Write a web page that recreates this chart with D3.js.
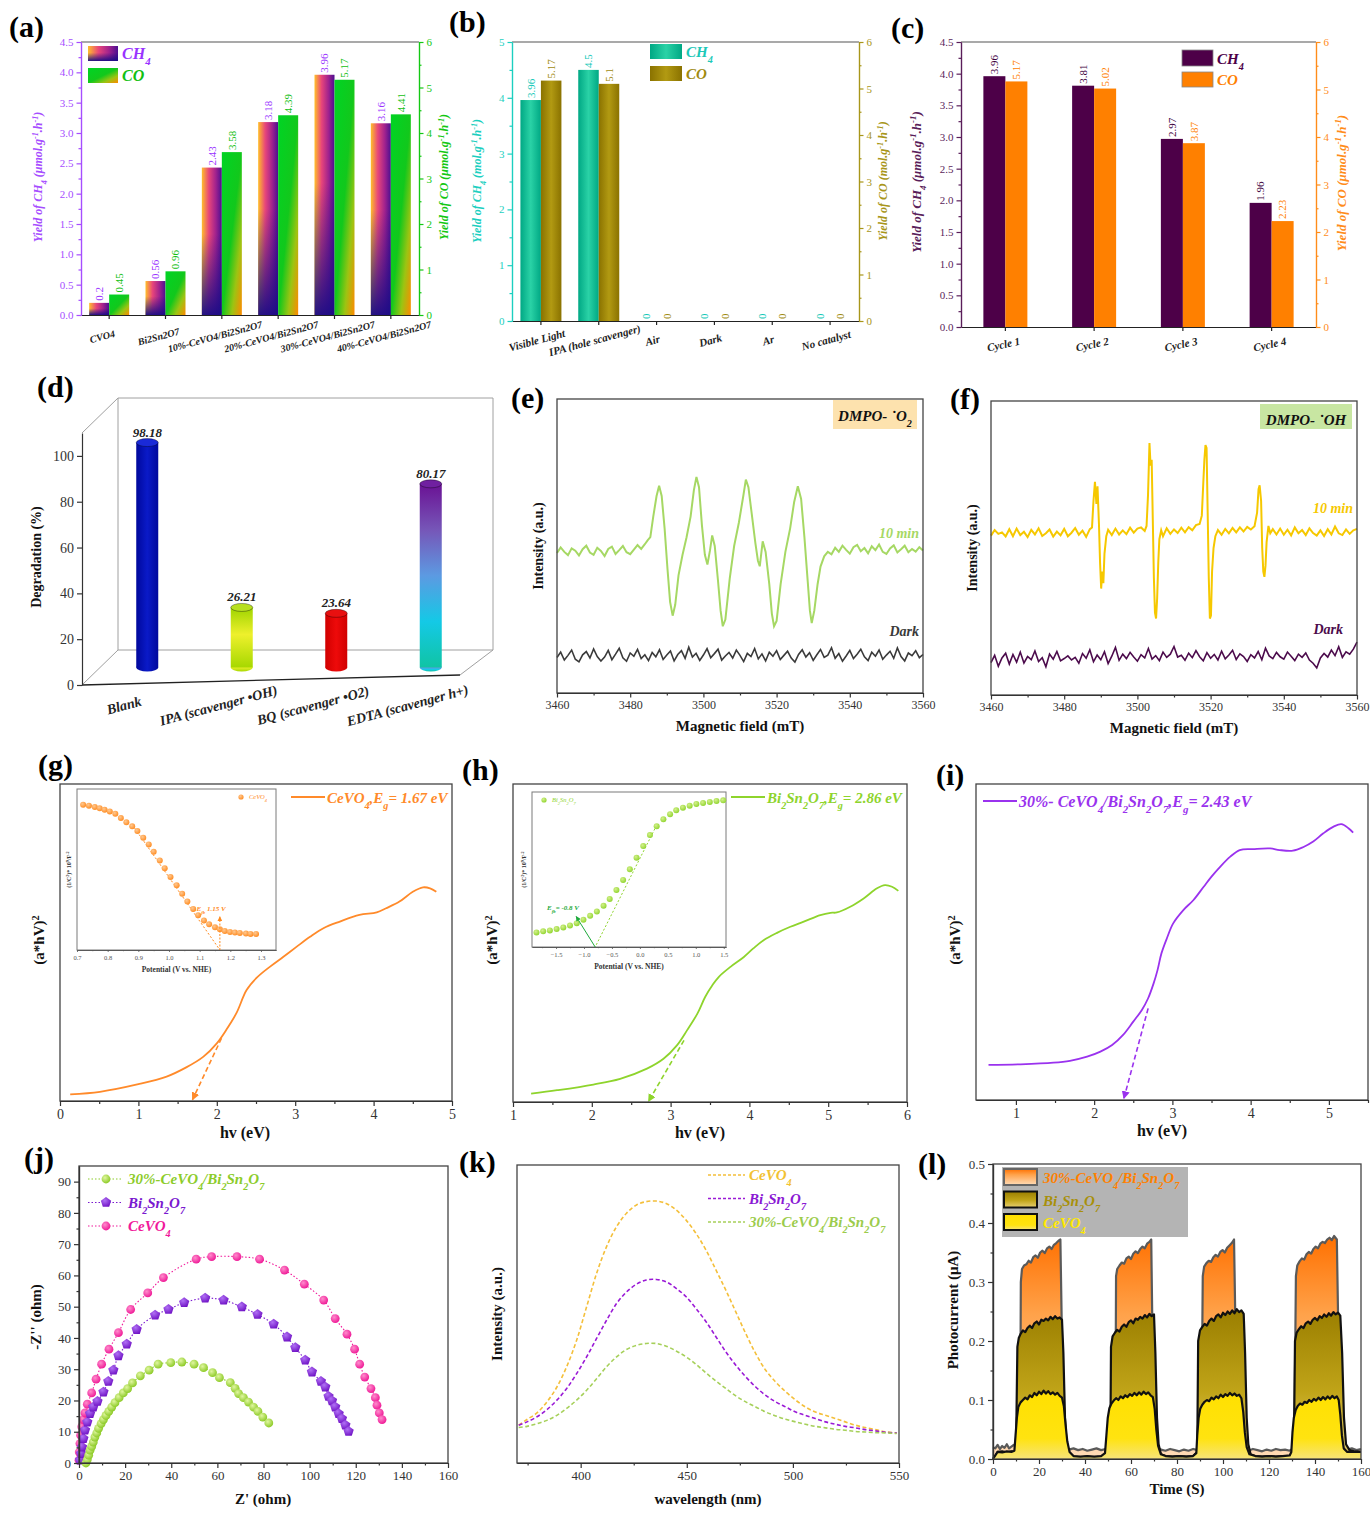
<!DOCTYPE html>
<html>
<head>
<meta charset="utf-8">
<script src="https://cdn.jsdelivr.net/npm/d3@7"></script>
<style>
  body { margin: 0; background: #fff; }
  svg text { font-family: "Liberation Serif", "Times New Roman", serif; }
</style>
</head>
<body>
<svg id="fig" width="1370" height="1513"></svg>
<script>
// ---------- data ----------

// (a) yields for the catalyst series
var catsA = ['CVO4', 'Bi2Sn2O7', '10%-CeVO4/Bi2Sn2O7', '20%-CeVO4/Bi2Sn2O7', '30%-CeVO4/Bi2Sn2O7', '40%-CeVO4/Bi2Sn2O7'];
var ch4A = [0.2, 0.56, 2.43, 3.18, 3.96, 3.16];
var coA = [0.45, 0.96, 3.58, 4.39, 5.17, 4.41];

// (b) control experiments
var catsB = ['Visible Light', 'IPA (hole scavenger)', 'Air', 'Dark', 'Ar', 'No catalyst'];
var ch4B = [3.96, 4.5, 0, 0, 0, 0];
var coB = [5.17, 5.1, 0, 0, 0, 0];

// (c) recycling
var catsC = ['Cycle 1', 'Cycle 2', 'Cycle 3', 'Cycle 4'];
var ch4C = [3.96, 3.81, 2.97, 1.96];
var coC = [5.17, 5.02, 3.87, 2.23];

// (d) scavenger test
var catsD = ['Blank', 'IPA (scavenger \u2022OH)', 'BQ  (scavenger \u2022O2)', 'EDTA (scavenger h+)'];
var degD = [98.18, 26.21, 23.64, 80.17];

// (e) ESR DMPO-O2 : [field mT, intensity a.u.]
var esrO2 = [
  [3460,47.6],[3461,49.5],[3462,48.0],[3463,46.9],[3464,49.2],[3465,48.4],[3466,46.8],[3467,48.9],[3468,50.1],[3469,47.8],
  [3470,47.0],[3471,49.4],[3472,48.3],[3473,46.6],[3474,49.0],[3475,49.8],[3476,47.3],[3477,48.6],[3478,50.0],[3479,47.9],
  [3480,47.2],[3481,48.8],[3482,50.3],[3483,49.0],[3484,50.6],[3484.8,52.0],[3485.5,53.0],
  [3486.3,60],[3487.2,67],[3487.9,70.5],[3488.6,67],[3489.4,56],[3490.2,42],[3490.9,31],[3491.6,26.3],[3492.3,30],
  [3493.2,40],[3494.3,47],[3495.4,53],[3496.5,60],[3497.4,69],[3498.1,73.5],[3498.8,70],[3499.6,57],[3500.4,47],
  [3501.1,43.7],[3501.8,48.5],[3502.4,53.6],[3503.1,50],[3504,38],[3504.7,28],[3505.3,22.7],[3506,25],[3507.2,39],
  [3508.4,50],[3509.7,58],[3510.9,67],[3511.6,72.6],[3512.3,70],[3513.2,61],[3514.2,51],[3514.9,45],[3515.4,43.1],
  [3516.2,51.6],[3517,48],[3518,37],[3518.7,27],[3519.3,22.7],[3520,24.5],[3521.1,37],[3522.4,48],[3523.7,56],
  [3524.8,65],[3525.8,70.3],[3526.7,66],[3527.6,53],[3528.5,38],[3529.1,28],[3529.6,23.8],[3530.3,28],[3531.2,37],
  [3532,43],[3533,46.5],[3534,48],
  [3535,47.2],[3536,49.4],[3537,48.0],[3538,50.1],[3539,48.7],[3540,47.4],[3541,49.6],[3542,50.4],[3543,48.2],
  [3544,49.3],[3545,47.5],[3546,49.9],[3547,48.6],[3548,50.5],[3549,48.0],[3550,47.3],[3551,49.2],[3552,50.2],
  [3553,47.8],[3554,48.9],[3555,50.1],[3556,47.9],[3557,49.0],[3558,48.1],[3559,49.6],[3560,48.5]
];
// dark trace, evenly sampled over 3460-3560 mT
var esrDarkO2 = [
  12.1,13.9,11.2,12.8,14.6,11.5,10.6,13.0,14.1,11.9,15.0,12.4,10.9,12.2,14.5,11.3,13.2,15.2,12.0,10.8,
  13.6,12.5,14.8,11.7,13.0,11.0,13.8,12.3,14.7,11.4,12.9,14.3,10.9,13.1,14.4,11.8,15.6,12.2,13.5,11.1,
  12.9,15.1,12.0,13.4,14.9,11.2,12.6,13.8,11.9,14.6,12.8,10.7,13.5,12.4,15.1,11.6,13.3,10.9,13.9,12.5,
  14.4,11.4,12.8,14.2,11.9,10.5,13.1,14.7,12.2,13.7,11.1,13.0,14.8,12.1,12.9,15.4,11.8,13.4,10.8,12.6,
  14.5,11.7,13.2,14.9,12.3,11.0,13.9,12.5,14.6,11.5,12.9,14.2,11.8,15.3,12.4,10.9,13.6,12.7,14.4,12.0,13.1
];

// (f) ESR DMPO-OH
var esrOH = [
  [3460,54.2],[3461,56.1],[3462,54.8],[3463,55.3],[3464,53.9],[3465,56.4],[3466,54.0],[3467,56.6],[3468,54.4],[3469,55.5],
  [3470,53.7],[3471,56.2],[3472,54.6],[3473,56.7],[3474,54.1],[3475,55.0],[3476,56.3],[3477,53.9],[3478,55.6],[3479,54.3],
  [3480,56.5],[3481,54.0],[3482,55.2],[3483,56.8],[3484,54.5],[3485,55.9],[3486,53.8],[3487,56.4],[3487.6,57.0],
  [3488,66],[3488.4,72.5],[3488.8,65],[3489.1,71],[3489.5,58],[3489.8,45],[3490.1,36.2],[3490.4,42],[3490.7,38],
  [3491,48],[3491.5,54],[3492,56.2],[3493,54.4],[3494,56.6],[3495,54.6],[3496,56.0],[3497,54.7],[3498,56.9],[3499,55.2],
  [3500,56.6],[3501,57.0],[3502,55.8],[3502.5,57.5],[3502.9,68],[3503.3,85.7],[3503.6,78],[3503.9,80],[3504.2,60],
  [3504.5,40],[3504.8,28],[3505.1,26],[3505.4,33],[3505.7,45],[3506,53],[3506.5,56.0],[3507,54.0],[3508,56.7],
  [3509,54.8],[3510,56.3],[3511,55.1],[3512,56.9],[3513,55.3],[3514,57.1],[3515,56.0],[3516,57.8],[3517,58.2],
  [3517.6,61],[3518,72],[3518.3,80],[3518.6,85],[3518.9,84],[3519.2,62],[3519.5,40],[3519.8,26],[3520.1,27],
  [3520.4,42],[3520.8,50],[3521.3,54],[3522,56.1],[3523,54.5],[3524,56.5],[3525,55.0],[3526,56.8],[3527,55.3],
  [3528,57.0],[3529,55.6],[3530,57.2],[3531,56.3],[3532,57.4],[3532.7,62],[3533.1,70],[3533.4,71.3],[3533.8,66],
  [3534.1,50],[3534.4,42],[3534.7,40.2],[3535,44],[3535.3,52],[3535.8,57.5],[3536.3,55.0],[3537,56.4],[3538,54.6],
  [3539,56.6],[3540,54.5],[3541,56.2],[3542,54.3],[3543,57.0],[3544,55.0],[3545,56.1],[3546,54.4],[3547,56.7],
  [3548,55.1],[3549,54.2],[3550,56.0],[3551,54.1],[3552,56.4],[3553,54.6],[3554,57.3],[3555,55.0],[3556,54.4],
  [3557,56.3],[3558,54.8],[3559,56.0],[3560,56.5]
];
var esrDarkOH = [
  11.0,13.5,9.8,12.6,14.2,10.5,13.8,11.2,14.6,10.9,13.1,12.0,15.0,11.4,12.7,9.6,13.9,12.2,14.8,11.6,
  12.4,13.3,11.9,12.8,10.8,14.1,12.5,15.4,11.3,13.6,12.0,14.7,10.7,13.2,16.2,11.8,13.9,12.4,14.5,12.9,
  11.5,13.7,12.6,15.8,12.2,13.4,11.7,14.6,12.8,13.9,16.5,12.9,13.5,11.8,14.2,12.7,15.1,13.0,11.6,14.4,
  12.5,13.8,11.9,14.9,12.3,13.6,15.2,12.1,14.0,13.1,11.4,13.7,12.6,14.8,12.0,15.9,13.3,12.4,14.5,13.0,
  12.2,14.6,13.2,11.7,13.9,12.8,14.3,11.9,10.8,9.2,12.6,14.1,12.9,15.3,13.4,16.4,12.8,14.7,13.9,15.6,18.0
];

// (g)(h)(i) Tauc plots : [hv eV, (a*hv)^2 a.u.]
var taucCe = [[0.13,2.1],[0.51,2.9],[1.0,5.3],[1.36,7.7],[1.61,10.6],[1.83,14.0],[2.0,18.2],[2.12,22.4],[2.25,27.7],
  [2.38,35.0],[2.51,38.9],[2.68,42.4],[2.85,45.5],[3.02,48.7],[3.19,51.8],[3.36,54.5],[3.57,56.6],[3.82,58.7],
  [4.04,59.5],[4.16,60.8],[4.33,62.9],[4.50,66.0],[4.63,67.4],[4.72,67.1],[4.80,66.0]];
var taucBi = [[1.23,2.6],[1.56,3.7],[2.02,5.5],[2.36,7.3],[2.70,10.5],[2.91,13.6],[3.08,17.8],[3.21,22.6],[3.34,27.8],
  [3.44,33.1],[3.53,36.7],[3.61,39.3],[3.76,42.5],[3.93,45.6],[4.05,48.3],[4.18,50.9],[4.35,53.2],[4.52,55.1],
  [4.69,56.7],[4.90,58.8],[5.03,59.5],[5.11,59.6],[5.28,61.4],[5.45,64.0],[5.62,67.2],[5.72,68.2],[5.81,67.7],[5.89,66.4]];
var taucComp = [[0.65,11.1],[1.06,11.3],[1.48,11.8],[1.69,12.4],[1.91,13.7],[2.08,15.3],[2.23,17.4],[2.37,20.6],
  [2.50,24.8],[2.61,28.5],[2.69,32.2],[2.76,36.9],[2.81,41.1],[2.86,46.4],[2.93,51.2],[3.01,55.9],[3.14,60.1],
  [3.27,63.3],[3.40,67.5],[3.50,70.7],[3.61,73.8],[3.74,77.0],[3.86,79.1],[4.03,79.4],[4.25,79.6],[4.37,79.1],
  [4.54,78.9],[4.67,80.0],[4.80,81.8],[4.93,84.4],[5.06,86.5],[5.16,87.3],[5.25,86.0],[5.31,84.6]];
var egCe = [[2.06,19.8],[1.69,0.4]];
var egBi = [[3.17,19.4],[2.72,0.2]];
var egComp = [[2.69,29.0],[2.38,0.5]];

// Mott-Schottky insets : [potential V vs NHE, 1/C^2 a.u.]
var mottCe = [[0.720,90.2],[0.739,89.6],[0.758,88.8],[0.774,88.0],[0.790,87.1],[0.807,86.1],[0.825,84.6],[0.843,82.0],
  [0.861,79.3],[0.880,76.8],[0.897,73.9],[0.916,69.7],[0.934,65.6],[0.950,61.0],[0.970,55.6],[0.986,50.8],[1.005,45.4],
  [1.025,40.2],[1.043,34.9],[1.060,30.1],[1.079,25.5],[1.095,21.6],[1.114,18.3],[1.131,16.0],[1.150,14.1],[1.166,12.9],
  [1.182,11.8],[1.199,11.2],[1.215,10.8],[1.231,10.6],[1.251,10.2],[1.266,10.0],[1.284,10.0]];
var fbCe = [[0.888,75.7],[1.166,0]];
var mottBi = [[-1.85,9.4],[-1.73,10.1],[-1.61,10.7],[-1.49,11.6],[-1.37,12.6],[-1.25,13.9],[-1.13,15.4],[-1.01,17.6],
  [-0.89,20.1],[-0.77,22.9],[-0.65,26.6],[-0.54,31.0],[-0.42,36.8],[-0.30,43.3],[-0.18,50.1],[-0.06,57.6],[0.06,65.1],
  [0.18,72.2],[0.30,77.9],[0.42,82.4],[0.54,85.7],[0.65,88.2],[0.77,89.9],[0.89,91.2],[1.01,92.3],[1.13,92.9],
  [1.25,93.6],[1.37,94.2],[1.49,94.6]];
var fbBi = [[0.30,78.6],[-0.80,0]];

// (j) Nyquist plots : [Z' ohm, -Z'' ohm]
var eisComp = [[3.0,0.0],[3.6,1.1],[4.2,2.5],[4.8,4.1],[5.5,5.3],[6.2,6.7],[6.9,8.3],[7.7,9.6],[8.5,11.1],[9.6,12.6],
  [10.6,13.9],[11.7,15.2],[12.9,16.5],[14.2,17.9],[15.6,19.3],[17.4,20.9],[19.2,22.4],[21.1,23.8],[23.2,25.6],
  [26.6,27.9],[30.4,29.7],[34.3,31.6],[39.8,32.1],[44.6,32.3],[49.9,31.6],[54.0,30.5],[57.9,28.9],[60.9,27.3],
  [65.6,25.7],[67.7,23.9],[69.2,22.2],[71.3,20.9],[73.5,19.5],[75.7,17.9],[77.6,16.5],[79.7,14.7],[82.3,12.8]];
var eisBi = [[0.4,0.9],[0.9,3.0],[1.3,5.1],[1.9,7.8],[2.6,10.5],[3.6,13.1],[4.8,15.8],[6.2,17.9],[8.0,19.7],[10.6,22.7],
  [12.7,26.1],[14.9,29.7],[17.1,34.3],[20.7,38.0],[25.0,42.7],[33.0,47.3],[38.8,49.1],[45.6,51.3],[54.7,52.7],
  [62.7,52.1],[70.6,49.9],[77.4,47.5],[84.4,44.4],[90.2,40.3],[93.8,36.9],[98.1,32.9],[101.0,29.1],[104.9,26.1],
  [106.8,24.3],[108.2,21.3],[109.7,19.9],[111.1,17.9],[112.6,15.8],[114.0,14.2],[115.5,12.1],[116.9,10.1]];
var eisCe = [[0.0,0.9],[0.1,3.5],[0.4,6.2],[0.7,8.9],[1.2,11.6],[1.9,13.9],[2.6,16.0],[3.6,18.8],[5.5,22.4],[7.4,26.8],
  [9.8,31.6],[13.0,36.4],[17.1,41.7],[22.4,49.1],[29.8,54.4],[36.6,59.3],[50.8,65.2],[57.5,66.0],[68.5,66.0],
  [78.3,65.2],[89.1,61.7],[97.7,57.2],[106.1,52.1],[111.1,46.2],[116.2,41.2],[119.5,36.4],[121.7,31.6],[123.9,27.5],
  [126.6,23.8],[128.5,20.9],[129.2,18.5],[130.2,16.0],[131.4,13.9]];

// (k) PL spectra : [wavelength nm, intensity a.u.]
var plCe = [[370.8,12.7],[374.7,14.6],[379.4,16.8],[384.1,20.5],[388.8,25.5],[393.4,32.3],[398.1,41.2],[402.8,52.4],
  [407.5,63.6],[412.2,72.6],[416.9,79.3],[421.6,83.8],[426.3,86.6],[430.9,87.7],[435.6,87.9],[440.3,87.1],[445.0,84.9],
  [449.7,81.5],[454.4,77.0],[459.1,71.4],[463.8,64.7],[468.4,58.0],[473.1,50.7],[477.8,43.4],[482.5,36.7],[487.2,31.1],
  [491.9,27.2],[496.6,23.9],[501.3,21.1],[505.9,18.8],[510.6,17.1],[515.3,16.0],[520.0,14.9],[524.7,13.8],[529.4,12.7],
  [534.1,11.9],[538.8,11.2],[543.4,10.5],[548.9,10.1]];
var plBi = [[370.8,12.7],[374.7,13.8],[379.4,15.5],[384.1,17.9],[388.8,21.1],[393.4,25.0],[398.1,30.0],[402.8,35.6],
  [407.5,41.8],[412.2,47.9],[416.9,53.5],[421.6,57.4],[426.3,60.0],[430.9,61.4],[435.6,61.6],[440.3,60.8],[445.0,58.6],
  [449.7,55.8],[454.4,51.8],[459.1,47.4],[463.8,42.3],[468.4,37.3],[473.1,32.8],[477.8,28.9],[482.5,25.5],[487.2,22.7],
  [491.9,20.5],[496.6,18.8],[501.3,17.1],[505.9,16.0],[510.6,14.9],[515.3,13.8],[520.0,13.0],[524.7,12.3],[529.4,11.8],
  [534.1,11.2],[538.8,10.8],[543.4,10.3],[548.9,10.1]];
var plComp = [[370.8,11.9],[374.7,12.3],[379.4,13.2],[384.1,14.3],[388.8,16.0],[393.4,18.3],[398.1,21.1],[402.8,24.4],
  [407.5,28.3],[412.2,32.3],[416.9,35.6],[421.6,38.1],[426.3,39.5],[430.9,40.1],[435.6,40.1],[440.3,39.2],[445.0,37.6],
  [449.7,35.6],[454.4,33.1],[459.1,30.2],[463.8,27.5],[468.4,25.0],[473.1,22.5],[477.8,20.5],[482.5,18.8],[487.2,17.1],
  [491.9,15.8],[496.6,14.7],[501.3,13.8],[505.9,13.0],[510.6,12.3],[515.3,11.8],[520.0,11.3],[524.7,11.0],[529.4,10.6],
  [534.1,10.4],[538.8,10.2],[543.4,10.1],[548.9,9.9]];

// (l) transient photocurrent : [time s, current uA]
var pcComp = [
  [0,0.02],[1,0.018],[2,0.024],[3,0.017],[4,0.022],[5,0.019],[6,0.025],[7,0.018],[8,0.021],[9,0.024],[10,0.02],[11,0.026],[11.8,0.03],
  [12.1,0.3],[12.6,0.322],[13.5,0.328],[14.5,0.33],[15.5,0.336],[16.5,0.333],[17.5,0.342],[18.5,0.345],[19.5,0.341],[20.5,0.35],
  [21.5,0.353],[22.5,0.349],[23.5,0.357],[24.5,0.36],[25.5,0.356],[26.5,0.363],[27.5,0.366],[28.5,0.37],[29.3,0.372],
  [29.8,0.25],[30.4,0.1],[31,0.04],[31.7,0.02],[33,0.016],[35,0.018],[37,0.015],[39,0.017],[41,0.014],[43,0.016],[45,0.018],
  [47,0.015],[49,0.017],[51,0.016],[52.5,0.019],[53.2,0.025],
  [53.5,0.31],[54,0.322],[55,0.328],[56,0.333],[57,0.331],[58,0.34],[59,0.343],[60,0.339],[61,0.348],[62,0.352],[63,0.349],
  [64,0.356],[65,0.36],[66,0.357],[67,0.365],[68,0.368],[68.8,0.372],
  [69.2,0.25],[69.8,0.1],[70.5,0.04],[71.5,0.02],[73,0.016],[75,0.014],[77,0.017],[79,0.015],[81,0.013],[83,0.016],[85,0.014],
  [87,0.017],[89,0.015],[90.6,0.02],
  [91.2,0.31],[91.8,0.326],[92.8,0.332],[93.8,0.336],[94.8,0.334],[95.8,0.342],[96.8,0.346],[97.8,0.343],[98.8,0.351],
  [99.8,0.354],[100.8,0.35],[101.8,0.358],[102.8,0.362],[103.8,0.366],[104.8,0.372],
  [105.3,0.25],[105.9,0.1],[106.6,0.04],[107.5,0.02],[109,0.016],[111,0.014],[113,0.017],[115,0.015],[117,0.013],[119,0.016],
  [121,0.014],[123,0.017],[125,0.015],[127,0.016],[129,0.014],[131,0.019],
  [131.7,0.31],[132.3,0.328],[133.3,0.335],[134.3,0.34],[135.3,0.338],[136.3,0.347],[137.3,0.351],[138.3,0.348],[139.3,0.356],
  [140.3,0.36],[141.3,0.357],[142.3,0.365],[143.3,0.368],[144.3,0.366],[145.3,0.372],[146.3,0.375],[147.3,0.371],[148.3,0.378],[149.5,0.372],
  [150,0.25],[150.7,0.1],[151.5,0.04],[152.5,0.02],[154,0.016],[156,0.018],[158,0.015],[160,0.017]
];
var pcBi = [
  [0,0.0],[1,0.005],[2,0.012],[4,0.013],[6,0.011],[8,0.013],[10,0.012],
  [10.6,0.19],[11.2,0.205],[12,0.212],[13,0.218],[14,0.215],[15,0.222],[16,0.226],[17,0.222],[18,0.23],[19,0.233],[20,0.228],
  [21,0.236],[22,0.234],[23,0.238],[24,0.235],[25,0.241],[26,0.237],[27,0.242],[28,0.238],[29,0.24],[30,0.236],
  [30.6,0.18],[31.3,0.07],[32,0.025],[33,0.008],[35,0.004],[38,0.003],[41,0.004],[44,0.003],[47,0.004],[50,0.005],[51,0.012],
  [51.3,0.19],[52,0.208],[53,0.214],[54,0.219],[55,0.216],[56,0.224],[57,0.228],[58,0.224],[59,0.232],[60,0.235],[61,0.23],
  [62,0.238],[63,0.236],[64,0.241],[65,0.238],[66,0.244],[67,0.24],[68,0.246],[69,0.242],[70,0.245],
  [70.6,0.18],[71.3,0.07],[72,0.025],[73,0.008],[75,0.005],[78,0.004],[81,0.005],[84,0.004],[87,0.005],[88.8,0.012],
  [89.2,0.2],[90,0.218],[91,0.224],[92,0.229],[93,0.226],[94,0.234],[95,0.238],[96,0.234],[97,0.242],[98,0.245],[99,0.24],
  [100,0.248],[101,0.244],[102,0.25],[103,0.246],[104,0.252],[105,0.247],[106,0.254],[107,0.249],[108,0.252],[109,0.246],
  [109.6,0.18],[110.3,0.07],[111,0.025],[112,0.008],[114,0.005],[117,0.004],[120,0.005],[123,0.004],[126,0.005],[129,0.005],[130.8,0.012],
  [131.3,0.2],[132,0.214],[133,0.22],[134,0.225],[135,0.222],[136,0.23],[137,0.233],[138,0.229],[139,0.236],[140,0.239],
  [141,0.235],[142,0.242],[143,0.239],[144,0.245],[145,0.241],[146,0.247],[147,0.243],[148,0.249],[149,0.245],[150,0.248],[151,0.243],
  [151.8,0.18],[152.6,0.07],[153.5,0.025],[155,0.015],[157,0.013],[160,0.012]
];
var pcCe = [
  [0,0.0],[1,0.006],[2,0.012],[4,0.011],[6,0.013],[8,0.012],[9.3,0.014],
  [9.8,0.04],[10.4,0.07],[11,0.088],[12,0.096],[13,0.1],[14,0.104],[15,0.101],[16,0.108],[17,0.105],[18,0.112],[19,0.108],
  [20,0.114],[21,0.11],[22,0.116],[23,0.111],[24,0.115],[25,0.11],[26,0.113],[27,0.109],[28,0.112],[29,0.107],[30,0.104],
  [30.8,0.09],[31.5,0.06],[32.3,0.03],[33.3,0.012],[35,0.005],[38,0.004],[41,0.005],[44,0.004],[47,0.005],[48.7,0.01],
  [49.3,0.04],[49.9,0.07],[50.6,0.086],[51.5,0.094],[52.5,0.099],[53.5,0.103],[54.5,0.1],[55.5,0.106],[56.5,0.103],
  [57.5,0.108],[58.5,0.105],[59.5,0.11],[60.5,0.107],[61.5,0.112],[62.5,0.108],[63.5,0.113],[64.5,0.109],[65.5,0.114],
  [66.5,0.11],[67.5,0.113],[68.5,0.108],[69.5,0.105],
  [70.3,0.085],[71,0.05],[71.8,0.022],[73,0.008],[75,0.005],[78,0.004],[81,0.005],[84,0.004],[87,0.005],[88.4,0.01],
  [88.8,0.04],[89.4,0.07],[90.1,0.085],[91,0.092],[92,0.097],[93,0.1],[94,0.098],[95,0.104],[96,0.101],[97,0.106],[98,0.103],
  [99,0.109],[100,0.105],[101,0.11],[102,0.107],[103,0.112],[104,0.108],[105,0.111],[106,0.107],[107,0.109],[108,0.103],
  [108.8,0.08],[109.5,0.045],[110.3,0.02],[111.5,0.008],[114,0.005],[117,0.004],[120,0.005],[123,0.004],[126,0.005],[129,0.006],[129.7,0.012],
  [130.2,0.045],[130.8,0.07],[131.6,0.083],[132.5,0.09],[133.5,0.094],[134.5,0.092],[135.5,0.097],[136.5,0.095],[137.5,0.1],
  [138.5,0.097],[139.5,0.102],[140.5,0.099],[141.5,0.104],[142.5,0.1],[143.5,0.105],[144.5,0.101],[145.5,0.106],[146.5,0.102],
  [147.5,0.107],[148.5,0.103],[149.5,0.106],[150.3,0.1],
  [151,0.075],[151.7,0.04],[152.5,0.018],[154,0.012],[157,0.012],[160,0.012]
];

// ---------- helpers ----------
var svg = d3.select('#fig');
var defs = svg.append('defs');

// text with _{sub} and ^{sup} markup
function rich(t, s) {
  var re = /([_^])\{([^}]*)\}/g, last = 0, m;
  while ((m = re.exec(s)) !== null) {
    if (m.index > last) t.append('tspan').text(s.slice(last, m.index));
    t.append('tspan')
      .attr('baseline-shift', m[1] === '_' ? 'sub' : 'super')
      .attr('font-size', '68%')
      .text(m[2]);
    last = re.lastIndex;
  }
  if (last < s.length) t.append('tspan').text(s.slice(last));
  return t;
}

function label(g, x, y, s, o) {
  o = o || {};
  var t = g.append('text')
    .attr('transform', 'translate(' + x + ',' + y + ')' + (o.rot ? ' rotate(' + o.rot + ')' : ''))
    .attr('text-anchor', o.anchor || 'start')
    .attr('font-size', o.size || 12)
    .attr('font-weight', o.bold ? 'bold' : null)
    .attr('font-style', o.italic ? 'italic' : null)
    .attr('fill', o.color || '#111');
  return rich(t, s);
}

function grad(id, stops, dir) {
  dir = dir || [0, 0, 0, 1];
  var lg = defs.append('linearGradient').attr('id', id)
    .attr('x1', dir[0]).attr('y1', dir[1]).attr('x2', dir[2]).attr('y2', dir[3]);
  stops.forEach(function (s) {
    lg.append('stop').attr('offset', s[0]).attr('stop-color', s[1])
      .attr('stop-opacity', s[2] == null ? 1 : s[2]);
  });
  return 'url(#' + id + ')';
}

function radial(id, inner, outer) {
  var rg = defs.append('radialGradient').attr('id', id)
    .attr('cx', 0.38).attr('cy', 0.35).attr('r', 0.7);
  rg.append('stop').attr('offset', 0).attr('stop-color', inner);
  rg.append('stop').attr('offset', 1).attr('stop-color', outer);
  return 'url(#' + id + ')';
}

function arrowHead(id, color) {
  defs.append('marker').attr('id', id).attr('viewBox', '0 0 10 10')
    .attr('refX', 9).attr('refY', 5).attr('markerWidth', 5).attr('markerHeight', 5)
    .attr('orient', 'auto')
    .append('path').attr('d', 'M0,0 L10,5 L0,10 z').attr('fill', color);
  return 'url(#' + id + ')';
}

function styleAxis(sel, color, size, width) {
  sel.attr('font-family', null);
  sel.select('.domain').attr('stroke', color).attr('stroke-width', width || 1.2);
  sel.selectAll('.tick line').attr('stroke', color).attr('stroke-width', width || 1.2);
  sel.selectAll('.tick text').attr('fill', color).attr('font-size', size);
  return sel;
}

function addAxis(g, orient, scale, pos, major, minor, fmt, color, size, o) {
  o = o || {};
  var mk = { left: d3.axisLeft, right: d3.axisRight, bottom: d3.axisBottom, top: d3.axisTop }[orient];
  var tr = (orient === 'left' || orient === 'right') ? 'translate(' + pos + ',0)' : 'translate(0,' + pos + ')';
  if (minor) {
    var m = g.append('g').attr('transform', tr)
      .call(mk(scale).tickValues(minor).tickFormat('').tickSize(o.minorSize || 2.5).tickSizeOuter(0));
    styleAxis(m, color, size, o.width);
  }
  var a = g.append('g').attr('transform', tr)
    .call(mk(scale).tickValues(major).tickFormat(fmt).tickSize(o.size || 4.5).tickSizeOuter(0).tickPadding(o.pad || 3));
  styleAxis(a, color, size, o.width);
  if (o.textColor) a.selectAll('.tick text').attr('fill', o.textColor);
  return a;
}

function steps(a, b, s) {
  return d3.range(a, b + s / 2, s).map(function (v) { return +v.toFixed(4); });
}

function frame(g, l, t, r, b, color, w) {
  g.append('rect').attr('x', l).attr('y', t).attr('width', r - l).attr('height', b - t)
    .attr('fill', 'none').attr('stroke', color || '#444').attr('stroke-width', w || 1.3);
}

// ---------- panel letters ----------
var letters = [['(a)', 9, 37], ['(b)', 449, 32], ['(c)', 891, 38], ['(d)', 37, 397], ['(e)', 511, 408], ['(f)', 950, 409],
  ['(g)', 38, 775], ['(h)', 462, 780], ['(i)', 936, 785], ['(j)', 24, 1168], ['(k)', 459, 1172], ['(l)', 918, 1174]];
svg.append('g').selectAll('text').data(letters).join('text')
  .attr('x', function (d) { return d[1]; }).attr('y', function (d) { return d[2]; })
  .attr('font-size', 30).attr('font-weight', 'bold').attr('fill', '#000')
  .text(function (d) { return d[0]; });

// ---------- (a)(b)(c) grouped bars with two y axes ----------
function barPanel(o) {
  var g = svg.append('g');
  var x = d3.scaleBand().domain(o.cats).range([o.left, o.right]);
  var yL = d3.scaleLinear().domain([0, o.lMax]).range([o.bottom, o.top]);
  var yR = d3.scaleLinear().domain([0, o.rMax]).range([o.bottom, o.top]);
  var cx = function (d) { return x(d) + x.bandwidth() / 2; };

  g.append('line').attr('x1', o.left).attr('x2', o.right).attr('y1', o.top).attr('y2', o.top)
    .attr('stroke', '#555').attr('stroke-width', 1.2);

  var series = [
    { vals: o.ch4, y: yL, off: -o.bw, fills: o.fills1, col: o.vc1 },
    { vals: o.co, y: yR, off: 0, fills: o.fills2, col: o.vc2 }
  ];
  series.forEach(function (s) {
    s.fills.forEach(function (f) {
      g.append('g').selectAll('rect').data(o.cats).join('rect')
        .attr('x', function (d) { return cx(d) + s.off; }).attr('width', o.bw)
        .attr('y', function (d, i) { return s.y(s.vals[i]); })
        .attr('height', function (d, i) { return o.bottom - s.y(s.vals[i]); })
        .attr('fill', f);
    });
    g.append('g').selectAll('text').data(o.cats).join('text')
      .attr('transform', function (d, i) {
        return 'translate(' + (cx(d) + s.off + o.bw / 2 + o.vfs * 0.35) + ',' + (s.y(s.vals[i]) - 2) + ') rotate(-90)';
      })
      .attr('font-size', o.vfs).attr('fill', s.col)
      .text(function (d, i) { return s.vals[i]; });
  });

  addAxis(g, 'bottom', x, o.bottom, o.cats, null, '', '#222', 10, { size: 4 });
  g.append('g').selectAll('text').data(o.cats).join('text')
    .attr('transform', function (d) { return 'translate(' + (cx(d) + o.lblDx) + ',' + (o.bottom + o.lblDy) + ') rotate(' + o.rot + ')'; })
    .attr('text-anchor', 'middle').attr('font-size', o.cfs).attr('font-weight', 'bold').attr('font-style', 'italic')
    .attr('fill', '#222').text(function (d) { return d; });

  addAxis(g, 'left', yL, o.left, o.lTicks, o.lMinor, o.lFmt, o.lc, o.tfs, { textColor: o.ltc });
  addAxis(g, 'right', yR, o.right, o.rTicks, o.rMinor, d3.format('d'), o.rc, o.tfs, { textColor: o.rtc });

  label(g, o.lt[0], o.lt[1], o.lTitle, { rot: -90, anchor: 'middle', size: o.ttfs, bold: true, italic: true, color: o.lc });
  label(g, o.rt[0], o.rt[1], o.rTitle, { rot: -90, anchor: 'middle', size: o.ttfs, bold: true, italic: true, color: o.rc });

  o.legend.forEach(function (L) {
    L.fills.forEach(function (f) {
      g.append('rect').attr('x', L.x).attr('y', L.y).attr('width', L.w).attr('height', L.h)
        .attr('fill', f).attr('stroke', L.stroke || 'none').attr('stroke-width', 0.8);
    });
    label(g, L.x + L.w + 4, L.y + L.h - 2, L.text, { size: o.lfs, bold: true, italic: true, color: L.color });
  });
}

var gA1 = grad('gA1', [[0, '#ffbf2a'], [0.35, '#e8467a'], [0.7, '#a0228e'], [1, '#4c0f90']], [0, 0, 1, 0]);
var gA1o = grad('gA1o', [[0, '#1a0c86', 0], [0.45, '#1a0c86', 0], [1, '#1a0c86', 0.95]], [0, 0, 0, 1]);
var gA2 = grad('gA2', [[0, '#00d424'], [0.5, '#12c81c'], [0.75, '#9cc412'], [1, '#ff8a00']], [0, 0, 1, 1]);

barPanel({
  cats: catsA, ch4: ch4A, co: coA, left: 81, right: 419, top: 42, bottom: 315, lMax: 4.5, rMax: 6, bw: 20,
  fills1: [gA1, gA1o], fills2: [gA2], vc1: '#9933ff', vc2: '#12c012', vfs: 11,
  lTicks: steps(0, 4.5, 0.5), lMinor: steps(0.25, 4.25, 0.5), lFmt: d3.format('.1f'),
  rTicks: steps(0, 6, 1), rMinor: steps(0.5, 5.5, 1),
  lc: '#a64dff', rc: '#14c814', tfs: 11, ttfs: 12,
  lt: [42, 177], rt: [448, 177],
  lTitle: 'Yield of CH_{4} (\u03bcmol.g^{-1}.h^{-1})', rTitle: 'Yield of CO (\u03bcmol.g^{-1}.h^{-1})',
  lblDx: -6, lblDy: 25, rot: -15, cfs: 10,
  lfs: 16,
  legend: [
    { x: 88, y: 46, w: 30, h: 15, fills: [gA1, gA1o], text: 'CH_{4}', color: '#9933ff' },
    { x: 88, y: 68, w: 30, h: 15, fills: [gA2], text: 'CO', color: '#12c012' }
  ]
});

var gB1 = grad('gB1', [[0, '#00a884'], [0.5, '#2ad2a6'], [1, '#00a884']], [0, 0, 1, 0]);
var gB2 = grad('gB2', [[0, '#8a7200'], [0.5, '#b29a12'], [1, '#8a7200']], [0, 0, 1, 0]);

barPanel({
  cats: catsB, ch4: ch4B, co: coB, left: 512, right: 859, top: 42, bottom: 321, lMax: 5, rMax: 6, bw: 20.5,
  fills1: [gB1], fills2: [gB2], vc1: '#12c8b8', vc2: '#a08a10', vfs: 11,
  lTicks: steps(0, 5, 1), lMinor: steps(0.5, 4.5, 1), lFmt: d3.format('d'),
  rTicks: steps(0, 6, 1), rMinor: steps(0.5, 5.5, 1),
  lc: '#1ccfc0', rc: '#a8961a', tfs: 11, ttfs: 12,
  lt: [481, 181], rt: [887, 181],
  lTitle: 'Yield of CH_{4} (mol.g^{-1}.h^{-1})', rTitle: 'Yield of CO (mol.g^{-1}.h^{-1})',
  lblDx: -3, lblDy: 23, rot: -15, cfs: 11,
  lfs: 15,
  legend: [
    { x: 650, y: 44, w: 32, h: 15, fills: [gB1], text: 'CH_{4}', color: '#1cc8b8' },
    { x: 650, y: 66, w: 32, h: 15, fills: [gB2], text: 'CO', color: '#a08a10' }
  ]
});

barPanel({
  cats: catsC, ch4: ch4C, co: coC, left: 961, right: 1316, top: 42, bottom: 327, lMax: 4.5, rMax: 6, bw: 22,
  fills1: ['#4d0048'], fills2: ['#ff8000'], vc1: '#3d003d', vc2: '#ff8000', vfs: 11,
  lTicks: steps(0, 4.5, 0.5), lMinor: steps(0.25, 4.25, 0.5), lFmt: d3.format('.1f'),
  rTicks: steps(0, 6, 1), rMinor: steps(0.5, 5.5, 1),
  lc: '#5a1e5a', rc: '#ff8c1a', tfs: 11, ttfs: 13,
  lt: [921, 182], rt: [1346, 183],
  lTitle: 'Yield of CH_{4} (\u03bcmol.g^{-1}.h^{-1})', rTitle: 'Yield of CO (\u03bcmol.g^{-1}.h^{-1})',
  lblDx: -1, lblDy: 21, rot: -12, cfs: 11,
  lfs: 15,
  legend: [
    { x: 1182, y: 50, w: 31, h: 16, fills: ['#4d0048'], stroke: '#888', text: 'CH_{4}', color: '#4d0048' },
    { x: 1182, y: 72, w: 31, h: 15, fills: ['#ff8000'], stroke: '#888', text: 'CO', color: '#ff8000' }
  ]
});

// ---------- (d) 3D cylinder bars ----------
(function () {
  var g = svg.append('g');
  var y = d3.scaleLinear().domain([0, 110]).range([685, 433]);
  var x = d3.scaleBand().domain(catsD).range([82, 460]);
  var dx = 36, dy = -35;
  var y0 = y(0), yT = y(110);
  var walls = [
    [[82, yT], [82 + dx, yT + dy]], [[82 + dx, yT + dy], [493, yT + dy]], [[493, yT + dy], [493, y0 + dy]],
    [[82 + dx, yT + dy], [82 + dx, y0 + dy]], [[82 + dx, y0 + dy], [493, y0 + dy]], [[82, y0], [82 + dx, y0 + dy]],
    [[493, y0 + dy], [460, y0 - 10]]
  ];
  g.append('g').selectAll('line').data(walls).join('line')
    .attr('x1', function (d) { return d[0][0]; }).attr('y1', function (d) { return d[0][1]; })
    .attr('x2', function (d) { return d[1][0]; }).attr('y2', function (d) { return d[1][1]; })
    .attr('stroke', '#a0a0a0').attr('stroke-width', 1);
  g.append('line').attr('x1', 82).attr('y1', y0).attr('x2', 460).attr('y2', y0 - 10)
    .attr('stroke', '#222').attr('stroke-width', 1.3);
  addAxis(g, 'left', y, 82, steps(0, 100, 20), null, d3.format('d'), '#333', 14, { size: 5 });

  var fills = [
    [grad('cyl0', [[0, '#00089c'], [0.5, '#0a1ac8'], [1, '#00089c']], [0, 0, 1, 0]), '#1a2ad8'],
    [grad('cyl1', [[0, '#9ed400'], [0.45, '#eef02c'], [1, '#a6d800']]), '#b8e020'],
    [grad('cyl2', [[0, '#d00000'], [0.5, '#ee0a0a'], [1, '#d00000']], [0, 0, 1, 0]), '#e81010'],
    [grad('cyl3', [[0, '#6a1294'], [0.25, '#7656b8'], [0.5, '#5c9ae2'], [0.75, '#14c9e6'], [1, '#10c4a4']]), '#7020a0']
  ];
  catsD.forEach(function (c, i) {
    var cx = x(c) + x.bandwidth() / 2 + dx / 2;
    var top = y(degD[i]) + dy / 2, base = y(0) + dy / 2, r = 11;
    g.append('ellipse').attr('cx', cx).attr('cy', base).attr('rx', r).attr('ry', 4).attr('fill', fills[i][0]);
    g.append('rect').attr('x', cx - r).attr('y', top).attr('width', 2 * r).attr('height', base - top).attr('fill', fills[i][0]);
    g.append('ellipse').attr('cx', cx).attr('cy', top).attr('rx', r).attr('ry', 4)
      .attr('fill', fills[i][1]).attr('stroke', 'rgba(0,0,0,0.45)').attr('stroke-width', 0.8);
    g.append('text').attr('x', cx).attr('y', top - 6).attr('text-anchor', 'middle')
      .attr('font-size', 13).attr('font-weight', 'bold').attr('font-style', 'italic').attr('fill', '#222')
      .text(degD[i].toFixed(2));
    g.append('text')
      .attr('transform', 'translate(' + (x(c) + x.bandwidth() / 2 - 4) + ',' + (y0 + 25) + ') rotate(-15)')
      .attr('text-anchor', 'middle').attr('font-size', 14).attr('font-weight', 'bold').attr('font-style', 'italic')
      .attr('fill', '#222').text(c);
  });
  label(g, 41, 557, 'Degradation (%)', { rot: -90, anchor: 'middle', size: 14, bold: true });
})();

// ---------- (e)(f) ESR spectra ----------
function esrPanel(o) {
  var g = svg.append('g');
  var x = d3.scaleLinear().domain([3460, 3560]).range([o.left, o.right]);
  var y = d3.scaleLinear().domain([0, 100]).range([o.bottom, o.top]);
  var line = d3.line().x(function (d) { return x(d[0]); }).y(function (d) { return y(d[1]); });
  var n = o.dark.length;
  var darkPts = o.dark.map(function (v, i) { return [3460 + i * 100 / (n - 1), v]; });
  g.append('path').attr('d', line(darkPts)).attr('fill', 'none').attr('stroke', o.darkColor).attr('stroke-width', 1.6);
  g.append('path').attr('d', line(o.signal)).attr('fill', 'none').attr('stroke', o.sigColor).attr('stroke-width', 2);
  frame(g, o.left, o.top, o.right, o.bottom, '#444', 1.3);
  addAxis(g, 'bottom', x, o.bottom, steps(3460, 3560, 20), steps(3470, 3550, 20), d3.format('d'), '#333', 12, { size: 4.5 });
  g.append('rect').attr('x', o.tag[0]).attr('y', o.tag[1]).attr('width', o.tag[2]).attr('height', o.tag[3]).attr('fill', o.tagFill);
  label(g, o.tag[0] + o.tag[2] / 2, o.tag[1] + 21, o.tagText, { anchor: 'middle', size: 15, bold: true, italic: true, color: '#111' });
  label(g, o.right - 4, o.sigLbl, '10 min', { anchor: 'end', size: 14, bold: true, italic: true, color: o.sigColor });
  label(g, o.right - (o.darkDx || 4), o.darkLbl, 'Dark', { anchor: 'end', size: 14, bold: true, italic: true, color: o.darkColor });
  label(g, o.left - 14, (o.top + o.bottom) / 2, 'Intensity (a.u.)', { rot: -90, anchor: 'middle', size: 14, bold: true });
  label(g, (o.left + o.right) / 2, o.bottom + 38, 'Magnetic field (mT)', { anchor: 'middle', size: 15, bold: true });
}

esrPanel({
  left: 557, right: 923, top: 399, bottom: 693, signal: esrO2, dark: esrDarkO2,
  sigColor: '#a6d864', darkColor: '#3a3a3a', sigLbl: 538, darkLbl: 636,
  tag: [833, 400, 84, 29], tagFill: '#fde2ae', tagText: 'DMPO- \u02d9O_{2}'
});
esrPanel({
  left: 991, right: 1357, top: 401, bottom: 695, signal: esrOH, dark: esrDarkOH,
  sigColor: '#f6c800', darkColor: '#4c0b4c', sigLbl: 513, darkLbl: 634, darkDx: 14,
  tag: [1260, 404, 92, 25], tagFill: '#c8e6a2', tagText: 'DMPO- \u02d9OH'
});

// ---------- (g)(h)(i) Tauc plots with Mott-Schottky insets ----------
function insetPanel(g, o) {
  var x = d3.scaleLinear().domain(o.xDom).range([o.left, o.right]);
  var y = d3.scaleLinear().domain([0, 100]).range([o.bottom, o.top]);
  frame(g, o.left, o.top, o.right, o.bottom, '#7a7a7a', 1);
  var line = d3.line().x(function (d) { return x(d[0]); }).y(function (d) { return y(d[1]); });
  g.append('path').attr('d', line(o.tangent)).attr('fill', 'none').attr('stroke', o.color)
    .attr('stroke-width', 1).attr('stroke-dasharray', '2,2');
  var dot = radial(o.id + 'dot', o.light, o.color);
  g.append('g').selectAll('circle').data(o.data).join('circle')
    .attr('cx', function (d) { return x(d[0]); }).attr('cy', function (d) { return y(d[1]); })
    .attr('r', 3).attr('fill', dot);
  g.append('path').attr('d', line(o.arrow)).attr('fill', 'none').attr('stroke', o.arrowColor)
    .attr('stroke-width', 1).attr('stroke-dasharray', o.arrowDash || null)
    .attr('marker-end', arrowHead(o.id + 'ah', o.arrowColor));
  addAxis(g, 'bottom', x, o.bottom, o.ticks, o.minor, o.fmt, '#555', 6.5, { size: 2, minorSize: 1.2, width: 0.8, pad: 3 });
  label(g, x(o.fbLbl[0]), y(o.fbLbl[1]), o.fbText, { size: 7, bold: true, italic: true, color: o.arrowColor });
  g.append('circle').attr('cx', o.left + o.legX).attr('cy', o.top + 8).attr('r', 2.6).attr('fill', dot);
  label(g, o.left + o.legX + 8, o.top + 10, o.name, { size: 6.5, italic: true, color: o.color });
  label(g, o.left - 6, (o.top + o.bottom) / 2, '(1/C^{2})* 10^{9}/F^{-2}', { rot: -90, anchor: 'middle', size: 6, bold: true, color: '#333' });
  label(g, (o.left + o.right) / 2, o.bottom + 22, 'Potential (V vs. NHE)', { anchor: 'middle', size: 7.5, bold: true, color: '#333' });
}

function taucPanel(o) {
  var g = svg.append('g');
  var x = d3.scaleLinear().domain(o.xDom).range([o.left, o.right]);
  var y = d3.scaleLinear().domain([0, 100]).range([o.bottom, o.top]);
  var fx = function (d) { return x(d[0]); }, fy = function (d) { return y(d[1]); };
  g.append('path').attr('d', d3.line().curve(d3.curveCatmullRom).x(fx).y(fy)(o.data))
    .attr('fill', 'none').attr('stroke', o.color).attr('stroke-width', 1.8);
  g.append('path').attr('d', d3.line().x(fx).y(fy)(o.eg))
    .attr('fill', 'none').attr('stroke', o.color).attr('stroke-width', 1.6).attr('stroke-dasharray', '5,3')
    .attr('marker-end', arrowHead(o.id + 'eg', o.color));
  frame(g, o.left, o.top, o.right, o.bottom, '#444', 1.3);
  addAxis(g, 'bottom', x, o.bottom, o.ticks, o.minor, d3.format('d'), '#333', 14, { size: 5, minorSize: 3 });
  g.append('line').attr('x1', o.leg[0]).attr('x2', o.leg[0] + 34).attr('y1', o.leg[1]).attr('y2', o.leg[1])
    .attr('stroke', o.color).attr('stroke-width', 2);
  label(g, o.leg[0] + 36, o.leg[1] + 6, o.legText, { size: o.legSize || 16, bold: true, italic: true, color: o.color });
  label(g, o.left - 16, 940, '(a*hV)^{2}', { rot: -90, anchor: 'middle', size: 15, bold: true });
  label(g, o.xt[0], o.xt[1], 'hv (eV)', { anchor: 'middle', size: 16, bold: true });
  if (o.inset) insetPanel(g, o.inset);
}

taucPanel({
  id: 'g', left: 60, right: 452, top: 784, bottom: 1101, xDom: [0, 5], ticks: steps(0, 5, 1), minor: steps(0.5, 4.5, 1),
  data: taucCe, eg: egCe, color: '#ff8a2a', leg: [291, 797], legText: 'CeVO_{4},E_{g}= 1.67 eV', legSize: 15, xt: [245, 1138],
  inset: {
    id: 'gi', left: 77, right: 276, top: 789, bottom: 950, xDom: [0.7, 1.349], ticks: steps(0.7, 1.3, 0.1),
    minor: steps(0.75, 1.25, 0.1), fmt: d3.format('.1f'), data: mottCe, tangent: fbCe, color: '#ff8a1e', light: '#ffc890',
    arrow: [[1.166, 0], [1.166, 20.7]], arrowColor: '#ff8a1e', arrowDash: '2,1.5',
    fbLbl: [1.09, 24], fbText: 'E_{fb} 1.15 V', legX: 164, name: 'CeVO_{4}'
  }
});
taucPanel({
  id: 'h', left: 513, right: 907, top: 784, bottom: 1102, xDom: [1, 6], ticks: steps(1, 6, 1), minor: steps(1.5, 5.5, 1),
  data: taucBi, eg: egBi, color: '#8ed42c', leg: [731, 797], legText: 'Bi_{2}Sn_{2}O_{7},E_{g}= 2.86 eV', legSize: 15, xt: [700, 1138],
  inset: {
    id: 'hi', left: 532, right: 726, top: 792, bottom: 947, xDom: [-1.93, 1.54], ticks: steps(-1.5, 1.5, 0.5),
    minor: steps(-1.75, 1.25, 0.5), fmt: d3.format('.1f'), data: mottBi, tangent: fbBi, color: '#8ed42c', light: '#d4f08c',
    arrow: [[-0.80, 0], [-1.14, 19.7]], arrowColor: '#1eaa3c',
    fbLbl: [-1.66, 24], fbText: 'E_{fb}= -0.8 V', legX: 12, name: 'Bi_{2}Sn_{2}O_{7}'
  }
});
taucPanel({
  id: 'i', left: 976, right: 1368, top: 784, bottom: 1100, xDom: [0.49, 5.5], ticks: steps(1, 5, 1), minor: steps(1.5, 5.5, 1),
  data: taucComp, eg: egComp, color: '#9a32ee', leg: [983, 801], legText: '30%- CeVO_{4}/Bi_{2}Sn_{2}O_{7},E_{g}= 2.43 eV', xt: [1162, 1136]
});

// ---------- (j) Nyquist ----------
(function () {
  var g = svg.append('g');
  var x = d3.scaleLinear().domain([0, 160]).range([79, 448]);
  var y = d3.scaleLinear().domain([0, 95]).range([1463, 1166]);
  var fx = function (d) { return x(d[0]); }, fy = function (d) { return y(d[1]); };
  var pent = function (r) {
    return 'M' + d3.range(5).map(function (k) {
      var a = -Math.PI / 2 + k * 2 * Math.PI / 5;
      return [(r * Math.cos(a)).toFixed(2), (r * Math.sin(a)).toFixed(2)];
    }).join('L') + 'Z';
  };
  var sets = [
    { data: eisCe, color: '#f0189a', fill: radial('jCe', '#ff8ccc', '#ee1494'), shape: 'c', name: 'CeVO_{4}' },
    { data: eisBi, color: '#7a18d0', fill: radial('jBi', '#b070f4', '#6e10c4'), shape: 'p', name: 'Bi_{2}Sn_{2}O_{7}' },
    { data: eisComp, color: '#8ccc2a', fill: radial('jCo', '#e0f6a0', '#88c820'), shape: 'c', name: '30%-CeVO_{4}/Bi_{2}Sn_{2}O_{7}' }
  ];
  var mark = function (sel, s) {
    if (s.shape === 'c') return sel.append('circle').attr('r', 4.4).attr('fill', s.fill);
    return sel.append('path').attr('d', pent(5.4)).attr('fill', s.fill);
  };
  sets.forEach(function (s) {
    g.append('path').attr('d', d3.line().curve(d3.curveCatmullRom).x(fx).y(fy)(s.data))
      .attr('fill', 'none').attr('stroke', s.color).attr('stroke-width', 1.1).attr('stroke-dasharray', '1.5,2');
    g.append('g').selectAll('g').data(s.data).join('g')
      .attr('transform', function (d) { return 'translate(' + fx(d) + ',' + fy(d) + ')'; })
      .each(function () { mark(d3.select(this), s); });
  });
  frame(g, 79, 1166, 448, 1463, '#444', 1.3);
  addAxis(g, 'bottom', x, 1463, steps(0, 160, 20), steps(10, 150, 20), d3.format('d'), '#333', 13, { size: 5 });
  addAxis(g, 'left', y, 79, steps(0, 90, 10), steps(5, 85, 10), d3.format('d'), '#333', 13, { size: 5 });
  [sets[2], sets[1], sets[0]].forEach(function (s, i) {
    var ly = 1179 + i * 23.5;
    g.append('line').attr('x1', 88).attr('x2', 123).attr('y1', ly).attr('y2', ly)
      .attr('stroke', s.color).attr('stroke-width', 1.2).attr('stroke-dasharray', '1.5,2');
    mark(g.append('g').attr('transform', 'translate(106,' + ly + ')'), s);
    label(g, 128, ly + 5, s.name, { size: 15, bold: true, italic: true, color: s.color });
  });
  label(g, 41, 1317, '-Z\'\' (ohm)', { rot: -90, anchor: 'middle', size: 15, bold: true });
  label(g, 263, 1504, 'Z\' (ohm)', { anchor: 'middle', size: 15, bold: true });
})();

// ---------- (k) PL ----------
(function () {
  var g = svg.append('g');
  var x = d3.scaleLinear().domain([370, 550]).range([517, 899]);
  var y = d3.scaleLinear().domain([0, 100]).range([1463, 1165]);
  var line = d3.line().curve(d3.curveCatmullRom).x(function (d) { return x(d[0]); }).y(function (d) { return y(d[1]); });
  var sets = [
    { data: plCe, color: '#f4bf3a', text: '#f2c232', name: 'CeVO_{4}' },
    { data: plBi, color: '#9a1ad6', text: '#8a18d4', name: 'Bi_{2}Sn_{2}O_{7}' },
    { data: plComp, color: '#a6d05a', text: '#9ccc4c', name: '30%-CeVO_{4}/Bi_{2}Sn_{2}O_{7}' }
  ];
  sets.forEach(function (s, i) {
    g.append('path').attr('d', line(s.data)).attr('fill', 'none').attr('stroke', s.color)
      .attr('stroke-width', 1.6).attr('stroke-dasharray', '4,2.5');
    var ly = 1175 + i * 23.5;
    g.append('line').attr('x1', 708).attr('x2', 745).attr('y1', ly).attr('y2', ly)
      .attr('stroke', s.color).attr('stroke-width', 1.6).attr('stroke-dasharray', '3,2');
    label(g, 749, ly + 5, s.name, { size: 15, bold: true, italic: true, color: s.text });
  });
  frame(g, 517, 1165, 899, 1463, '#444', 1.3);
  addAxis(g, 'bottom', x, 1463, steps(400, 550, 50), steps(375, 525, 50), d3.format('d'), '#333', 13, { size: 5 });
  label(g, 502, 1314, 'Intensity (a.u.)', { rot: -90, anchor: 'middle', size: 15, bold: true });
  label(g, 708, 1504, 'wavelength (nm)', { anchor: 'middle', size: 15, bold: true });
})();

// ---------- (l) photocurrent ----------
(function () {
  var g = svg.append('g');
  var x = d3.scaleLinear().domain([0, 160]).range([993, 1361]);
  var y = d3.scaleLinear().domain([0, 0.5]).range([1459, 1164]);
  var area = d3.area().x(function (d) { return x(d[0]); }).y0(y(0)).y1(function (d) { return y(d[1]); });
  var line = d3.line().x(function (d) { return x(d[0]); }).y(function (d) { return y(d[1]); });
  var fOr = grad('lOr', [[0, '#ff7000'], [0.35, '#ffa24a'], [1, '#ffdcb8']]);
  var fOl = grad('lOl', [[0, '#9a7e00'], [0.55, '#c0a418'], [1, '#e8d070']]);
  var fYe = grad('lYe', [[0, '#ffe000'], [0.7, '#ffe310'], [1, '#f6e47a']]);
  var sets = [
    { data: pcComp, fill: fOr, stroke: '#5a5a5a', name: '30%-CeVO_{4}/Bi_{2}Sn_{2}O_{7}', text: '#ff8000' },
    { data: pcBi, fill: fOl, stroke: '#111', name: 'Bi_{2}Sn_{2}O_{7}', text: '#a8900a' },
    { data: pcCe, fill: fYe, stroke: '#111', name: 'CeVO_{4}', text: '#ffe800' }
  ];
  sets.forEach(function (s) {
    g.append('path').attr('d', area(s.data)).attr('fill', s.fill);
    g.append('path').attr('d', line(s.data)).attr('fill', 'none').attr('stroke', s.stroke)
      .attr('stroke-width', 2.2).attr('stroke-linejoin', 'round');
  });
  frame(g, 993, 1164, 1361, 1459, '#444', 1.3);
  addAxis(g, 'bottom', x, 1459, steps(0, 160, 20), steps(10, 150, 20), d3.format('d'), '#333', 13, { size: 5 });
  addAxis(g, 'left', y, 993, steps(0, 0.5, 0.1), steps(0.05, 0.45, 0.1), d3.format('.1f'), '#333', 13, { size: 5 });
  g.append('rect').attr('x', 1002).attr('y', 1167).attr('width', 186).attr('height', 70).attr('fill', '#b4b4b4');
  sets.forEach(function (s, i) {
    var ly = 1169 + i * 22.5;
    g.append('rect').attr('x', 1004).attr('y', ly).attr('width', 33).attr('height', 16)
      .attr('fill', s.fill).attr('stroke', i === 0 ? '#666' : '#111').attr('stroke-width', 2);
    label(g, 1043, ly + 14, s.name, { size: 15, bold: true, italic: true, color: s.text });
  });
  label(g, 958, 1310, 'Photocurrent (\u03bcA)', { rot: -90, anchor: 'middle', size: 15, bold: true });
  label(g, 1177, 1494, 'Time (S)', { anchor: 'middle', size: 15, bold: true });
})();
</script>
</body>
</html>
